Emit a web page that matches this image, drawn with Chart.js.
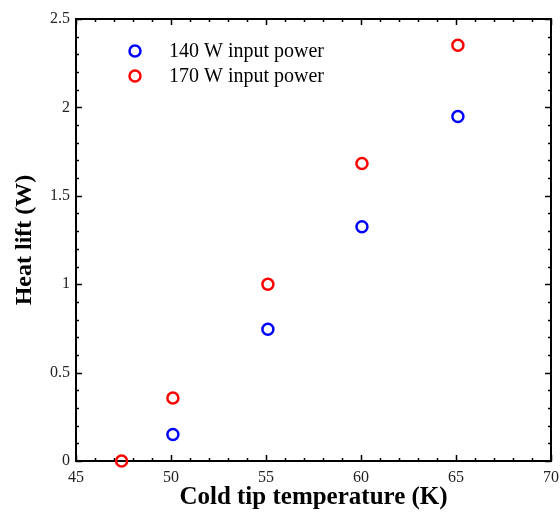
<!DOCTYPE html>
<html>
<head>
<meta charset="utf-8">
<script src="https://cdn.jsdelivr.net/npm/chart.js@4.4.1/dist/chart.umd.min.js"></script>
<style>
  html, body { margin: 0; padding: 0; background: #fff; }
  #wrap { width: 560px; height: 513px; }
</style>
</head>
<body>
<div id="wrap"><canvas id="myChart" width="560" height="513"></canvas></div>
<script>
// Heat lift vs cold tip temperature, two input powers

const temps140 = [50.1, 55.1, 60.05, 65.1];     // cold tip temperature (K)
const lift140 = [0.15, 0.745, 1.325, 1.948];    // heat lift (W)

const temps170 = [47.4, 50.1, 55.1, 60.05, 65.1];
const lift170 = [0, 0.356, 1.0, 1.683, 2.352];

const seriesLabels = ['140 W input power', '170 W input power'];
const seriesColors = ['#0000ff', '#ff0000'];

const xTicks = [45, 50, 55, 60, 65, 70];
const yTicks = [0, 0.5, 1, 1.5, 2, 2.5];

const serif = '"Liberation Serif", "Times New Roman", serif';

function toPoints(xs, ys) {
    return xs.map((x, i) => ({x: x, y: ys[i]}));
}

// box round the plot with inward major/minor ticks on all four sides
const framePlugin = {
    id: 'frame',
    beforeDatasetsDraw(chart) {
        const {ctx, chartArea: a, scales} = chart;
        const xs = scales.x, ys = scales.y;
        ctx.save();
        ctx.strokeStyle = '#000';
        ctx.lineWidth = 2;
        ctx.strokeRect(a.left, a.top, a.right - a.left, a.bottom - a.top);
        ctx.lineWidth = 1.5;
        ctx.beginPath();
        for (let v = 45; v <= 70; v += 1) {
            const px = Math.round(xs.getPixelForValue(v)) + 0.5;
            const len = v % 5 === 0 ? 6 : 3;
            ctx.moveTo(px, a.bottom); ctx.lineTo(px, a.bottom - len);
            ctx.moveTo(px, a.top); ctx.lineTo(px, a.top + len);
        }
        for (let k = 0; k <= 25; k++) {
            const py = Math.round(ys.getPixelForValue(k / 10)) + 0.5;
            const len = k % 5 === 0 ? 6 : 3;
            ctx.moveTo(a.left, py); ctx.lineTo(a.left + len, py);
            ctx.moveTo(a.right, py); ctx.lineTo(a.right - len, py);
        }
        ctx.stroke();
        ctx.restore();
    }
};

// legend drawn inside the plot, upper left
const insideLegend = {
    id: 'insideLegend',
    afterDatasetsDraw(chart) {
        const {ctx} = chart;
        ctx.save();
        ctx.font = '20px ' + serif;
        ctx.textBaseline = 'middle';
        seriesLabels.forEach((lbl, i) => {
            const y = 51 + i * 25;
            ctx.beginPath();
            ctx.arc(135, y, 5.5, 0, Math.PI * 2);
            ctx.strokeStyle = seriesColors[i];
            ctx.lineWidth = 2.5;
            ctx.stroke();
            ctx.fillStyle = '#000';
            ctx.fillText(lbl, 169, y + 1);
        });
        ctx.restore();
    }
};

function makeDataset(i, xs, ys) {
    return {
        label: seriesLabels[i],
        data: toPoints(xs, ys),
        borderColor: seriesColors[i],
        backgroundColor: 'rgba(0,0,0,0)',
        pointRadius: 5.5,
        pointBorderWidth: 2.5,
        showLine: false,
        clip: false
    };
}

const ctx = document.getElementById('myChart');
const myChart = new Chart(ctx, {
    type: 'scatter',
    data: {
        datasets: [
            makeDataset(0, temps140, lift140),
            makeDataset(1, temps170, lift170)
        ]
    },
    options: {
        responsive: false,
        animation: false,
        layout: { padding: { top: 19, right: 9, left: 0, bottom: 0 } },
        scales: {
            x: {
                type: 'linear',
                min: 45, max: 70,
                afterBuildTicks: (scale) => { scale.ticks = xTicks.map(v => ({value: v})); },
                afterFit: (scale) => {
                    scale.height = 52;
                    scale.paddingRight = 0;
                    scale.paddingLeft = 0;
                },
                grid: { display: false, drawTicks: false },
                border: { display: false },
                ticks: { color: '#222', padding: 7, font: { family: serif, size: 16 } },
                title: {
                    display: true,
                    text: 'Cold tip temperature (K)',
                    color: '#000',
                    padding: { top: 0, bottom: 0 },
                    font: { family: serif, size: 25, weight: 'bold' }
                }
            },
            y: {
                type: 'linear',
                min: 0, max: 2.5,
                afterBuildTicks: (scale) => { scale.ticks = yTicks.map(v => ({value: v})); },
                afterFit: (scale) => { scale.width = 76; },
                grid: { display: false, drawTicks: false },
                border: { display: false },
                ticks: {
                    color: '#222',
                    padding: 6,
                    font: { family: serif, size: 16 },
                    callback: (val) => String(val)
                },
                title: {
                    display: true,
                    text: 'Heat lift (W)',
                    color: '#000',
                    padding: { top: 10, bottom: 0 },
                    font: { family: serif, size: 24, weight: 'bold' }
                }
            }
        },
        plugins: {
            legend: { display: false },
            tooltip: { enabled: false }
        }
    },
    plugins: [framePlugin, insideLegend]
});
</script>
</body>
</html>
